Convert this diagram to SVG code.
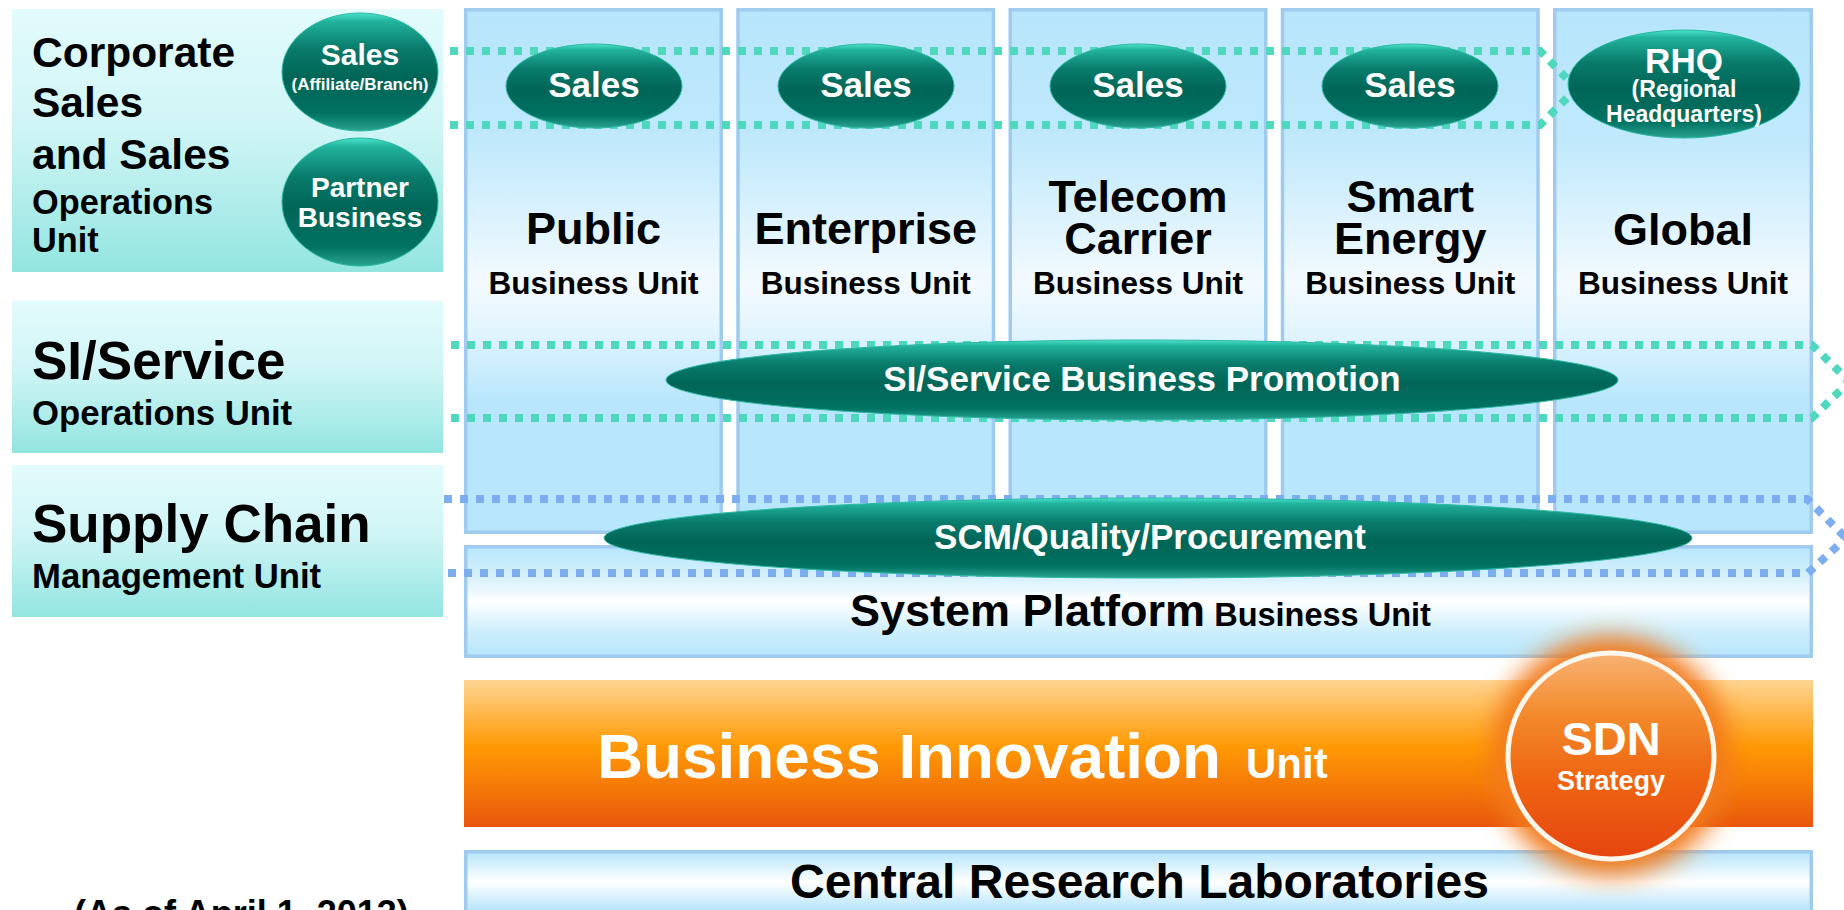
<svg xmlns="http://www.w3.org/2000/svg" width="1844" height="910" viewBox="0 0 1844 910">
  <defs>
    <linearGradient id="gLeft" x1="0" y1="0" x2="0" y2="1">
      <stop offset="0" stop-color="#e3fbfc"/>
      <stop offset="0.45" stop-color="#d0f5f6"/>
      <stop offset="1" stop-color="#93e5e0"/>
    </linearGradient>
    <linearGradient id="gCol" x1="0" y1="0" x2="0" y2="1">
      <stop offset="0" stop-color="#b7e5fb"/>
      <stop offset="0.25" stop-color="#c0e9fc"/>
      <stop offset="0.52" stop-color="#f3faff"/>
      <stop offset="0.6" stop-color="#e6f6fe"/>
      <stop offset="0.75" stop-color="#b8e6fc"/>
      <stop offset="1" stop-color="#b8e6fc"/>
    </linearGradient>
    <linearGradient id="gBand" x1="0" y1="0" x2="0" y2="1">
      <stop offset="0" stop-color="#b8e6fc"/>
      <stop offset="0.28" stop-color="#d6f1fe"/>
      <stop offset="0.5" stop-color="#ffffff"/>
      <stop offset="0.78" stop-color="#cdeefd"/>
      <stop offset="1" stop-color="#b8e6fc"/>
    </linearGradient>
    <linearGradient id="gLab" x1="0" y1="0" x2="0" y2="1">
      <stop offset="0" stop-color="#b8e6fc"/>
      <stop offset="0.38" stop-color="#ffffff"/>
      <stop offset="0.72" stop-color="#b8e6fc"/>
      <stop offset="1" stop-color="#b8e6fc"/>
    </linearGradient>
    <linearGradient id="gOrange" x1="0" y1="0" x2="0" y2="1">
      <stop offset="0" stop-color="#fed594"/>
      <stop offset="0.45" stop-color="#ff9a05"/>
      <stop offset="0.72" stop-color="#f57a08"/>
      <stop offset="1" stop-color="#e8550e"/>
    </linearGradient>
    <linearGradient id="gTeal" x1="0" y1="0" x2="0" y2="1">
      <stop offset="0" stop-color="#4ae2cb"/>
      <stop offset="0.07" stop-color="#22b39d"/>
      <stop offset="0.3" stop-color="#097b6b"/>
      <stop offset="0.55" stop-color="#006557"/>
      <stop offset="0.85" stop-color="#007262"/>
      <stop offset="1" stop-color="#2aa391"/>
    </linearGradient>
    <linearGradient id="gSdn" x1="0" y1="0" x2="0" y2="1">
      <stop offset="0" stop-color="#f8b274"/>
      <stop offset="0.3" stop-color="#f38a2c"/>
      <stop offset="0.6" stop-color="#ef6612"/>
      <stop offset="1" stop-color="#e5440f"/>
    </linearGradient>
    <filter id="glow" x="-50%" y="-50%" width="200%" height="200%">
      <feGaussianBlur stdDeviation="12"/>
    </filter>
  </defs>
  <style>
    text { font-family: "Liberation Sans", Arial, sans-serif; font-weight: bold; }
    .dark { fill: #000000; }
    .light { fill: #ffffff; }
    .mid { text-anchor: middle; }
    .leftbox { fill: url(#gLeft); }
    .col { fill: url(#gCol); stroke: #a0cbee; stroke-width: 3.5; }
    .band { fill: url(#gBand); stroke: #a0cbee; stroke-width: 3.5; }
    .pill { fill: url(#gTeal); stroke: #2cb9a3; stroke-width: 1; }
    .tealdots { fill: none; stroke: #4fd8bd; stroke-width: 8; stroke-dasharray: 8 8; }
    .bluedots { fill: none; stroke: #7cadef; stroke-width: 8; stroke-dasharray: 8 8; }
  </style>

  <rect width="1844" height="910" fill="#ffffff"/>

  <!-- left-hand operations units -->
  <g id="corporate-sales">
    <rect class="leftbox" x="12" y="9" width="431" height="263"/>
    <text class="dark" font-size="42.5"><tspan x="32" y="67">Corporate</tspan><tspan x="32" y="117">Sales</tspan><tspan x="32" y="169">and Sales</tspan></text>
    <text class="dark" font-size="34.3"><tspan x="32" y="214">Operations</tspan><tspan x="32" y="252">Unit</tspan></text>
  </g>
  <g id="si-service">
    <rect class="leftbox" x="12" y="301" width="431" height="152"/>
    <text class="dark" x="32" y="379" font-size="53">SI/Service</text>
    <text class="dark" x="32" y="425" font-size="34.7">Operations Unit</text>
  </g>
  <g id="supply-chain">
    <rect class="leftbox" x="12" y="465" width="431" height="152"/>
    <text class="dark" x="32" y="542" font-size="53">Supply Chain</text>
    <text class="dark" x="32" y="588" font-size="34.7">Management Unit</text>
  </g>

  <!-- business unit columns -->
  <g id="public-bu">
    <rect class="col" x="465.75" y="9.75" width="255.5" height="522.5"/>
    <text class="dark mid" x="593.5" y="244" font-size="45">Public</text>
    <text class="dark mid" x="593.5" y="294" font-size="31.5">Business Unit</text>
  </g>
  <g id="enterprise-bu">
    <rect class="col" x="738" y="9.75" width="255.5" height="522.5"/>
    <text class="dark mid" x="865.75" y="244" font-size="45">Enterprise</text>
    <text class="dark mid" x="865.75" y="294" font-size="31.5">Business Unit</text>
  </g>
  <g id="telecom-bu">
    <rect class="col" x="1010.25" y="9.75" width="255.5" height="522.5"/>
    <text class="dark mid" font-size="45"><tspan x="1138" y="212">Telecom</tspan><tspan x="1138" y="254">Carrier</tspan></text>
    <text class="dark mid" x="1138" y="294" font-size="31.5">Business Unit</text>
  </g>
  <g id="smart-energy-bu">
    <rect class="col" x="1282.5" y="9.75" width="255.5" height="522.5"/>
    <text class="dark mid" font-size="45"><tspan x="1410.25" y="212">Smart</tspan><tspan x="1410.25" y="254">Energy</tspan></text>
    <text class="dark mid" x="1410.25" y="294" font-size="31.5">Business Unit</text>
  </g>
  <g id="global-bu">
    <rect class="col" x="1554.75" y="9.75" width="256.5" height="522.5"/>
    <text class="dark mid" x="1683" y="245" font-size="45">Global</text>
    <text class="dark mid" x="1683" y="294" font-size="31.5">Business Unit</text>
  </g>

  <!-- platform, innovation and research rows -->
  <g id="system-platform-bu">
    <rect class="band" x="465.75" y="546.75" width="1345.5" height="109.5"/>
    <text class="dark" x="850" y="626" font-size="45">System Platform<tspan font-size="32.5"> Business Unit</tspan></text>
  </g>
  <g id="business-innovation">
    <rect x="464" y="680" width="1349" height="147" fill="url(#gOrange)"/>
    <text class="light" x="597" y="778" font-size="63.8">Business Innovation<tspan x="1246" font-size="42">Unit</tspan></text>
  </g>
  <g id="central-research">
    <rect x="465.75" y="851.75" width="1345.5" height="80" fill="url(#gLab)" stroke="#a0cbee" stroke-width="3.5"/>
    <text class="dark" x="790" y="898" font-size="48">Central Research Laboratories</text>
  </g>

  <!-- dotted connector bands -->
  <g id="connectors">
    <path class="tealdots" d="M450,51 H1540 L1576,88"/>
    <path class="tealdots" d="M450,125 H1540 L1576,89"/>
    <path class="tealdots" d="M451,345 H1812 L1850,382"/>
    <path class="tealdots" d="M451,418 H1812 L1850,381"/>
    <path class="bluedots" d="M444,499 H1807 L1845,537"/>
    <path class="bluedots" d="M448,573 H1808 L1845,539"/>
  </g>

  <!-- sales channels -->
  <g id="sales-affiliate">
    <ellipse class="pill" cx="360" cy="72" rx="78" ry="59"/>
    <text class="light mid" x="360" y="65" font-size="30">Sales</text>
    <text class="light mid" x="360" y="90" font-size="17">(Affiliate/Branch)</text>
  </g>
  <g id="partner-business">
    <ellipse class="pill" cx="360" cy="202" rx="78" ry="64"/>
    <text class="light mid" font-size="28"><tspan x="360" y="197">Partner</tspan><tspan x="360" y="227">Business</tspan></text>
  </g>
  <g id="sales-public">
    <ellipse class="pill" cx="594" cy="86" rx="88" ry="42"/>
    <text class="light mid" x="594" y="97" font-size="35">Sales</text>
  </g>
  <g id="sales-enterprise">
    <ellipse class="pill" cx="866" cy="86" rx="88" ry="42"/>
    <text class="light mid" x="866" y="97" font-size="35">Sales</text>
  </g>
  <g id="sales-telecom">
    <ellipse class="pill" cx="1138" cy="86" rx="88" ry="42"/>
    <text class="light mid" x="1138" y="97" font-size="35">Sales</text>
  </g>
  <g id="sales-smart-energy">
    <ellipse class="pill" cx="1410" cy="86" rx="88" ry="42"/>
    <text class="light mid" x="1410" y="97" font-size="35">Sales</text>
  </g>
  <g id="rhq">
    <ellipse class="pill" cx="1684" cy="84" rx="116" ry="54"/>
    <text class="light mid"><tspan x="1684" y="73" font-size="35">RHQ</tspan><tspan x="1684" y="97" font-size="23">(Regional</tspan><tspan x="1684" y="122" font-size="23">Headquarters)</tspan></text>
  </g>

  <!-- cross-unit promotion bands -->
  <g id="si-service-promotion">
    <ellipse class="pill" cx="1142" cy="380" rx="476" ry="40"/>
    <text class="light mid" x="1142" y="391" font-size="35">SI/Service Business Promotion</text>
  </g>
  <g id="scm-quality-procurement">
    <ellipse class="pill" cx="1148" cy="538" rx="544" ry="40"/>
    <text class="light mid" x="1150" y="549" font-size="35">SCM/Quality/Procurement</text>
  </g>

  <!-- SDN strategy badge -->
  <g id="sdn-strategy">
    <circle cx="1611" cy="756" r="120" fill="#f27a1e" filter="url(#glow)"/>
    <circle cx="1611" cy="756" r="103" fill="url(#gSdn)" stroke="#fff6ec" stroke-width="5"/>
    <text class="light mid" x="1611" y="755" font-size="47">SDN</text>
    <text class="light mid" x="1611" y="790" font-size="27">Strategy</text>
  </g>

  <!-- date note -->
  <g id="as-of-date">
    <text class="dark" x="74" y="926" font-size="36">(As of April 1, 2013)</text>
  </g>
</svg>
